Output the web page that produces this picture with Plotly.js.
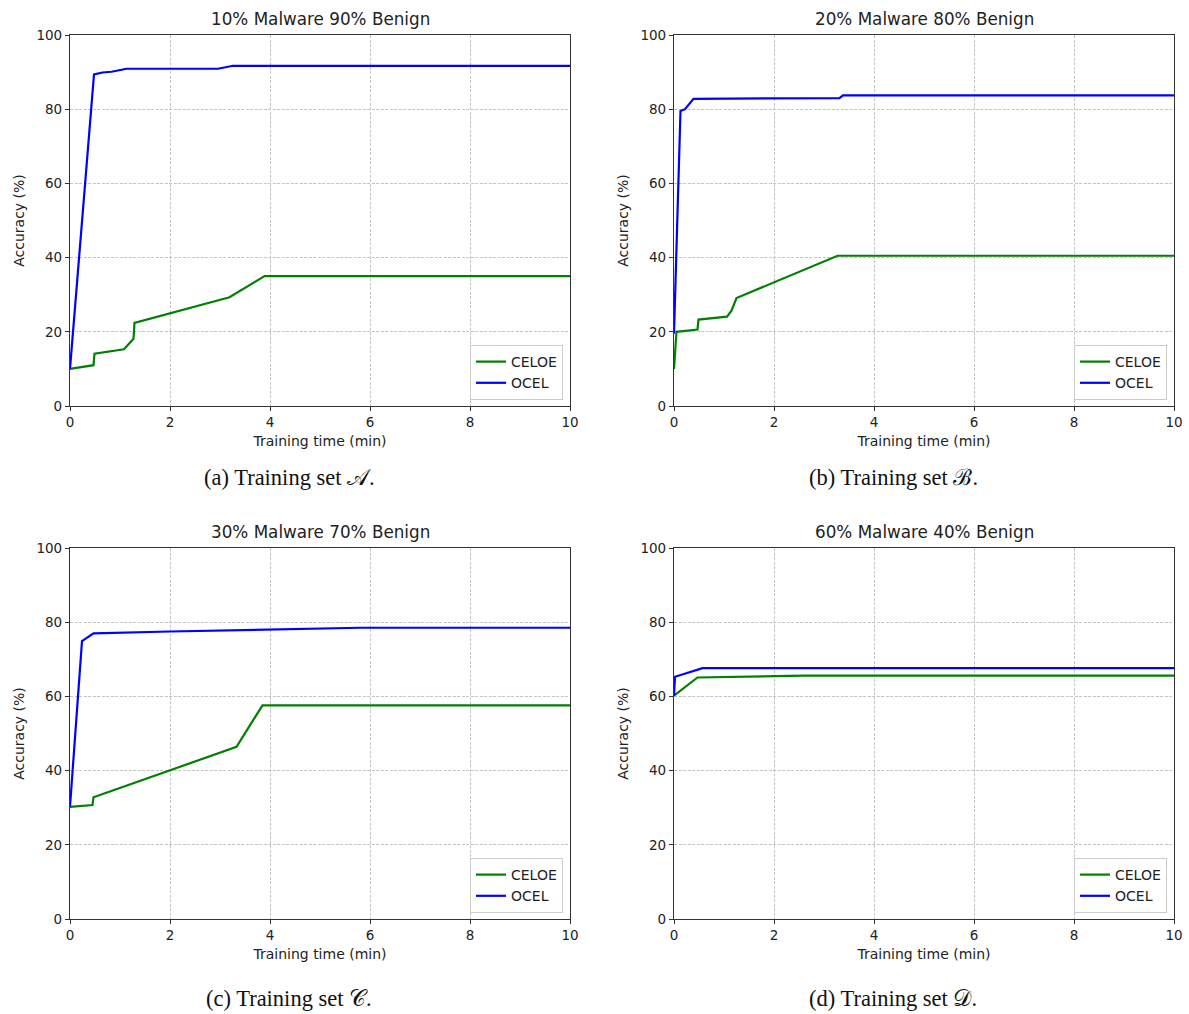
<!DOCTYPE html>
<html>
<head>
<meta charset="utf-8">
<script src="https://cdn.plot.ly/plotly-3.0.1.min.js"></script>
<style>html,body{margin:0;padding:0;background:#fff}#chart{width:1189px;height:1014px}</style>
</head>
<body>
<div id="chart"></div>
<script>
// ---- data ----
const panelTitles = ["10% Malware 90% Benign", "20% Malware 80% Benign", "30% Malware 70% Benign", "60% Malware 40% Benign"];
const captions = ["(a) Training set 𝒜.", "(b) Training set ℬ.", "(c) Training set 𝒞.", "(d) Training set 𝒟."];
const seriesNames = ["CELOE", "OCEL"];

const celoeA_x = [0, 0.47, 0.49, 1.08, 1.27, 1.29, 3.19, 3.89, 10];
const celoeA_y = [10, 11, 14.1, 15.3, 18.1, 22.4, 29.3, 35, 35];
const ocelA_x = [0, 0.48, 0.65, 0.83, 1.13, 2.96, 3.26, 10];
const ocelA_y = [10, 89.4, 89.9, 90.1, 90.9, 90.9, 91.7, 91.7];

const celoeB_x = [0, 0.05, 0.47, 0.49, 1.06, 1.15, 1.25, 3.27, 10];
const celoeB_y = [10, 20, 20.6, 23.3, 24.1, 25.7, 29.1, 40.5, 40.5];
const ocelB_x = [0, 0.13, 0.22, 0.39, 3.31, 3.38, 10];
const ocelB_y = [19.5, 79.5, 80, 82.8, 83, 83.7, 83.7];

const celoeC_x = [0, 0.45, 0.47, 3.33, 3.85, 10];
const celoeC_y = [30.2, 30.7, 32.8, 46.4, 57.6, 57.6];
const ocelC_x = [0, 0.24, 0.47, 2.0, 5.8, 10];
const ocelC_y = [30.3, 74.9, 77, 77.5, 78.5, 78.5];

const celoeD_x = [0, 0.47, 2.6, 10];
const celoeD_y = [60.2, 65.1, 65.6, 65.6];
const ocelD_x = [0, 0.02, 0.57, 10];
const ocelD_y = [60.2, 65.3, 67.6, 67.6];

const xTicks = [0, 2, 4, 6, 8, 10];
const yTicks = [0, 20, 40, 60, 80, 100];
const xTitle = "Training time (min)";
const yTitle = "Accuracy (%)";

// ---- layout geometry (pixels) ----
const W = 1189, H = 1014;
const cols = [[70, 570], [674, 1174]];
const rows = [[35, 406], [548, 919]];
const captionY = [478, 998];
const px = v => v / W;
const py = v => 1 - v / H;

const allX = [[celoeA_x, ocelA_x], [celoeB_x, ocelB_x], [celoeC_x, ocelC_x], [celoeD_x, ocelD_x]];
const allY = [[celoeA_y, ocelA_y], [celoeB_y, ocelB_y], [celoeC_y, ocelC_y], [celoeD_y, ocelD_y]];
const colors = ["#008000", "#0000ff"];
const txt = "#222";

const traces = [];
const layout = {
  width: W, height: H,
  margin: {l: 0, r: 0, t: 0, b: 0},
  paper_bgcolor: "#fff", plot_bgcolor: "#fff",
  font: {family: "DejaVu Sans", size: 14, color: txt},
  showlegend: true,
  annotations: []
};

for (let p = 0; p < 4; p++) {
  const c = cols[p % 2], ri = Math.floor(p / 2), r = rows[ri];
  const sfx = p === 0 ? "" : String(p + 1);
  const legName = p === 0 ? "legend" : "legend" + (p + 1);
  for (let s = 0; s < 2; s++) {
    traces.push({
      x: allX[p][s], y: allY[p][s], type: "scatter", mode: "lines",
      name: seriesNames[s],
      line: {color: colors[s], width: 2.2},
      xaxis: "x" + sfx, yaxis: "y" + sfx,
      legend: legName
    });
  }
  const common = {
    showline: true, mirror: true, linecolor: "#333", linewidth: 1.1,
    ticks: "outside", ticklen: 4, tickwidth: 1, tickcolor: "#333",
    showgrid: true, gridcolor: "#b8b8b8", griddash: "3px,1.5px", gridwidth: 0.8,
    zeroline: false, tickfont: {family: "DejaVu Sans", size: 13.5, color: txt}
  };
  layout["xaxis" + sfx] = Object.assign({}, common, {
    domain: [px(c[0]), px(c[1])], range: [0, 10],
    tickvals: xTicks, ticktext: xTicks.map(String),
    anchor: "y" + sfx,
    title: {text: xTitle, font: {family: "DejaVu Sans", size: 14, color: txt}, standoff: 6}
  });
  layout["yaxis" + sfx] = Object.assign({}, common, {
    domain: [py(r[1]), py(r[0])], range: [0, 100],
    tickvals: yTicks, ticktext: yTicks.map(String),
    anchor: "x" + sfx,
    title: {text: yTitle, font: {family: "DejaVu Sans", size: 14, color: txt}, standoff: 8}
  });
  layout[legName] = {
    x: px(c[1] - 7), y: py(r[1] - 6), xanchor: "right", yanchor: "bottom",
    xref: "paper", yref: "paper",
    bgcolor: "rgba(255,255,255,0.85)", bordercolor: "#cccccc", borderwidth: 1,
    font: {family: "DejaVu Sans", size: 14, color: txt},
    itemwidth: 30, tracegroupgap: 0
  };
  const cx = (c[0] + c[1]) / 2;
  layout.annotations.push({
    text: panelTitles[p], x: px(cx), y: py(r[0] - 4), xref: "paper", yref: "paper",
    xanchor: "center", yanchor: "bottom", showarrow: false,
    font: {family: "DejaVu Sans", size: 16.8, color: txt}
  });
  layout.annotations.push({
    text: captions[p], x: px(cx - 31), y: py(captionY[ri]), xref: "paper", yref: "paper",
    xanchor: "center", yanchor: "middle", showarrow: false,
    font: {family: "Liberation Serif", size: 22.5, color: "#111"}
  });
}

Plotly.newPlot("chart", traces, layout, {staticPlot: true, displayModeBar: false});
</script>
</body>
</html>
